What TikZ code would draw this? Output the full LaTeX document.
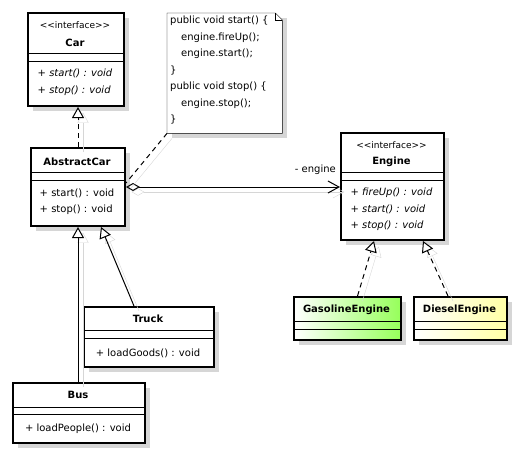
\documentclass[tikz,border=0pt]{standalone}
\usepackage{fontspec}
\setmainfont{DejaVu Sans}
\usetikzlibrary{arrows.meta,shadows}
\definecolor{verdegas}{RGB}{150,255,90}
\definecolor{amarelodiesel}{RGB}{255,255,165}
\definecolor{sombra}{RGB}{214,214,214}

\begin{document}
\begin{tikzpicture}[x=1pt,y=-1pt,
    classe/.style={draw, line width=2pt, fill=white, anchor=north west, inner sep=0pt,
      drop shadow={shadow xshift=5pt, shadow yshift=-5pt, fill=sombra, opacity=1}},
    divisao/.style={line width=1pt},
    nome/.style={font=\fontsize{10}{12}\selectfont\bfseries},
    estereotipo/.style={font=\fontsize{9}{11}\selectfont},
    metodos/.style={align=left, inner sep=0pt, font=\fontsize{10}{17}\selectfont},
    sombralinha/.style={preaction={draw=sombra, transform canvas={shift={(5pt,-5pt)}}}},
    heranca/.style={line width=1pt, sombralinha, -{Triangle[length=11pt,width=12pt,fill=white]}},
    realiza/.style={heranca, dash pattern=on 5pt off 4pt}]
  \useasboundingbox (0,0) rectangle (518,458);

  % interface Car
  \node[classe, minimum width=96, minimum height=93] (car) at (27,12) {};
  \draw[divisao] (car.west |- 0,53) -- (car.east |- 0,53);
  \draw[divisao] (car.west |- 0,61) -- (car.east |- 0,61);
  \node[estereotipo] (carst) at (75,25) {<{}<interface>{}>};
  \node[nome] (carnome) at (75,43) {Car};
  \node[metodos, font=\fontsize{10}{17}\selectfont\itshape] (carops) at (75,82.5)
    {+ start() : void\\+ stop() : void};

  % nota com o codigo
  \node[minimum width=115, minimum height=120, anchor=north west, inner sep=0pt] (nota) at (167,13) {};
  \fill[sombra] ([shift={(5pt,-5pt)}]nota.north west) rectangle ([shift={(5pt,-5pt)}]nota.south east);
  \draw[fill=white] (nota.north west) -- ([xshift=-7pt]nota.north east) -- ([yshift=-7pt]nota.north east)
    -- (nota.south east) -- (nota.south west) -- cycle;
  \draw ([xshift=-7pt]nota.north east) |- ([yshift=-7pt]nota.north east);
  \node[align=left, anchor=north west, inner sep=0pt, font=\fontsize{10}{16.5}\selectfont] (notatexto) at (170,16)
    {public void start() \{\\
     \hspace*{11pt}engine.fireUp();\\
     \hspace*{11pt}engine.start();\\
     \}\\
     public void stop() \{\\
     \hspace*{11pt}engine.stop();\\
     \}};

  % classe AbstractCar
  \node[classe, minimum width=94, minimum height=78] (abstractcar) at (30,147) {};
  \draw[divisao] (abstractcar.west |- 0,172) -- (abstractcar.east |- 0,172);
  \draw[divisao] (abstractcar.west |- 0,180) -- (abstractcar.east |- 0,180);
  \node[nome] (abstractcarnome) at (77,162) {AbstractCar};
  \node[metodos, font=\fontsize{10}{16}\selectfont] (abstractcarops) at (77,202)
    {+ start() : void\\+ stop() : void};

  % interface Engine
  \node[classe, minimum width=103, minimum height=107] (engine) at (340,132) {};
  \draw[divisao] (engine.west |- 0,172) -- (engine.east |- 0,172);
  \draw[divisao] (engine.west |- 0,180) -- (engine.east |- 0,180);
  \node[estereotipo] (enginest) at (391.5,145) {<{}<interface>{}>};
  \node[nome] (enginenome) at (391.5,162) {Engine};
  \node[metodos, font=\fontsize{10}{16.5}\selectfont\itshape] (engineops) at (391.5,209.5)
    {+ fireUp() : void\\+ start() : void\\+ stop() : void};

  % implementacoes de Engine
  \node[classe, minimum width=107, minimum height=43, left color=white, right color=verdegas] (gasoline) at (293,296) {};
  \draw[divisao] (gasoline.west |- 0,321) -- (gasoline.east |- 0,321);
  \draw[divisao] (gasoline.west |- 0,329) -- (gasoline.east |- 0,329);
  \node[nome] (gasolinenome) at (346.5,310) {GasolineEngine};
  \node[classe, minimum width=93, minimum height=43, left color=white, right color=amarelodiesel] (diesel) at (413,296) {};
  \draw[divisao] (diesel.west |- 0,321) -- (diesel.east |- 0,321);
  \draw[divisao] (diesel.west |- 0,329) -- (diesel.east |- 0,329);
  \node[nome] (dieselnome) at (459.5,310) {DieselEngine};

  % classe Truck
  \node[classe, minimum width=130, minimum height=60] (truck) at (83,306) {};
  \draw[divisao] (truck.west |- 0,330) -- (truck.east |- 0,330);
  \draw[divisao] (truck.west |- 0,338) -- (truck.east |- 0,338);
  \node[nome] (trucknome) at (148,319) {Truck};
  \node[metodos] (truckops) at (148,353) {+ loadGoods() : void};

  % classe Bus
  \node[classe, minimum width=132, minimum height=60] (bus) at (12,382) {};
  \draw[divisao] (bus.west |- 0,407) -- (bus.east |- 0,407);
  \draw[divisao] (bus.west |- 0,414) -- (bus.east |- 0,414);
  \node[nome] (busnome) at (78,395) {Bus};
  \node[metodos] (busops) at (78,429) {+ loadPeople() : void};

  % ligacoes
  \draw[realiza] (abstractcar.north) -- (abstractcar.north |- car.south);
  \draw[heranca] ([xshift=-1pt]bus.north) -- ([xshift=-1pt]bus.north |- abstractcar.south);
  \draw[heranca] ([xshift=-15pt]truck.north) -- ([xshift=23pt]abstractcar.south);
  \draw[realiza] ([xshift=10pt]gasoline.north) -- ([xshift=-18.5pt]engine.south);
  \draw[realiza] ([xshift=-12.5pt]diesel.north) -- ([xshift=30.5pt]engine.south);
  \draw[line width=1pt, sombralinha, {Diamond[open,length=14pt,width=8pt]}-{Straight Barb[length=11pt,width=12pt]}]
    (abstractcar.east) -- (abstractcar.east -| engine.west);
  \node[anchor=east, inner sep=0pt, font=\fontsize{10}{12}\selectfont] (rotulo) at (336,170) {- engine};
  \draw[line width=1pt, dash pattern=on 5pt off 4pt, sombralinha] (nota.south west) -- ([yshift=4pt]abstractcar.east);
\end{tikzpicture}
\end{document}
